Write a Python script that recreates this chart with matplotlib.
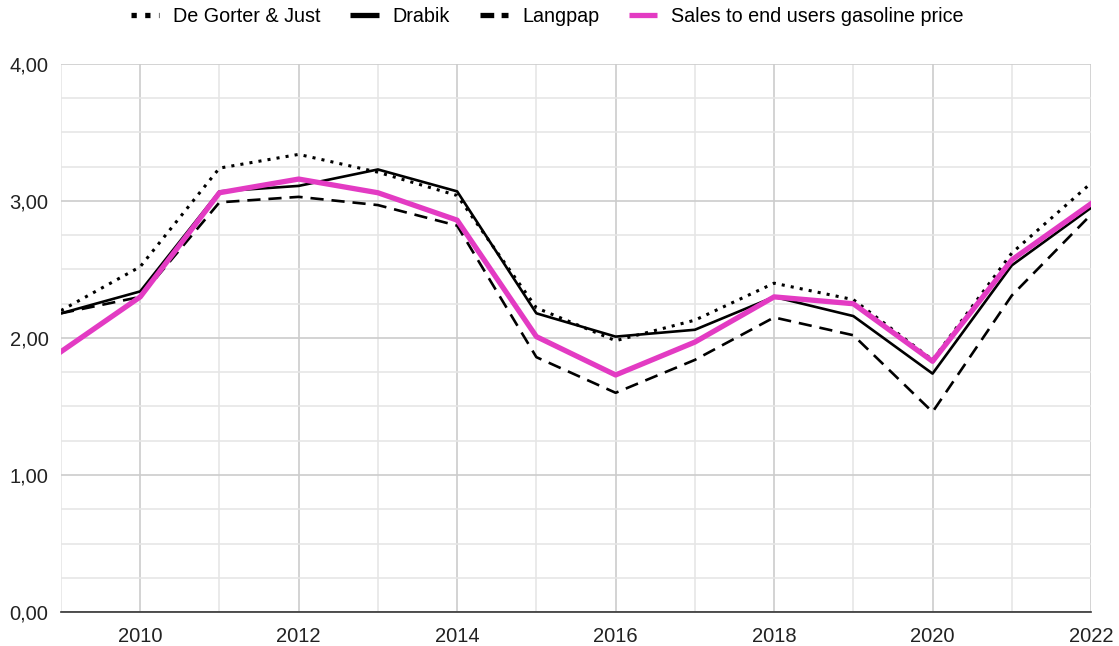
import matplotlib
matplotlib.use('Agg')
import matplotlib.pyplot as plt
from matplotlib.lines import Line2D
from matplotlib.ticker import FuncFormatter, MultipleLocator

plt.rcParams['font.family'] = ['Liberation Sans', 'DejaVu Sans']

years = list(range(2009, 2023))
de_gorter = [2.20, 2.52, 3.24, 3.34, 3.21, 3.04, 2.22, 1.98, 2.13, 2.40, 2.28, 1.84, 2.62, 3.13]
drabik = [2.18, 2.34, 3.07, 3.11, 3.23, 3.07, 2.18, 2.01, 2.06, 2.30, 2.16, 1.74, 2.53, 2.95]
langpap = [2.18, 2.30, 2.99, 3.03, 2.97, 2.82, 1.86, 1.60, 1.84, 2.15, 2.02, 1.46, 2.31, 2.90]
gasoline = [1.90, 2.30, 3.06, 3.16, 3.06, 2.86, 2.01, 1.73, 1.97, 2.30, 2.25, 1.83, 2.57, 2.98]
labels = ['De Gorter & Just', 'Drabik', 'Langpap', 'Sales to end users gasoline price']
pink = '#e33bc3'

fig = plt.figure(figsize=(11.19, 6.46), dpi=100)
ax = fig.add_axes([0.0545, 0.0526, 0.9205, 0.8484])

ax.plot(years, de_gorter, color='black', lw=2.2, ls=(0, (1, 2)))
ax.plot(years, drabik, color='black', lw=1.9)
ax.plot(years, langpap, color='black', lw=1.9, ls=(0, (5, 3)))
ax.plot(years, gasoline, color=pink, lw=3.8)

ax.set_xlim(2009, 2022)
ax.set_ylim(0, 4)
ax.xaxis.set_major_locator(MultipleLocator(2))
ax.xaxis.set_minor_locator(MultipleLocator(1))
ax.yaxis.set_major_locator(MultipleLocator(1))
ax.yaxis.set_minor_locator(MultipleLocator(0.25))
ax.yaxis.set_major_formatter(FuncFormatter(lambda v, p: f'{v:.2f}'.replace('.', ',')))

ax.grid(which='major', color='#cccccc', lw=1.2)
ax.grid(which='minor', color='#e6e6e6', lw=1.2)
ax.set_axisbelow(True)
ax.tick_params(which='both', length=0, labelsize=14.5, colors='#222222')
ax.tick_params(axis='x', pad=11)
ax.tick_params(axis='y', pad=9)
for s in ['top', 'right', 'left']:
    ax.spines[s].set_visible(False)
ax.spines['bottom'].set_color('#333333')
ax.spines['bottom'].set_linewidth(1.2)

# legend with thick stub handles
handles = [
    Line2D([], [], color='black', lw=3.8, ls=(0, (1, 1.6)), dash_capstyle='butt'),
    Line2D([], [], color='black', lw=3.8, solid_capstyle='butt'),
    Line2D([], [], color='black', lw=3.8, ls=(0, (2.6, 1.4)), dash_capstyle='butt'),
    Line2D([], [], color=pink, lw=3.8, solid_capstyle='butt'),
]
fig.legend(handles, labels, loc='center', bbox_to_anchor=(0.489, 0.974), ncol=4, frameon=False,
           fontsize=14.2, handlelength=1.45, handletextpad=0.7, columnspacing=1.5)

fig.savefig('out.png', dpi=100)
